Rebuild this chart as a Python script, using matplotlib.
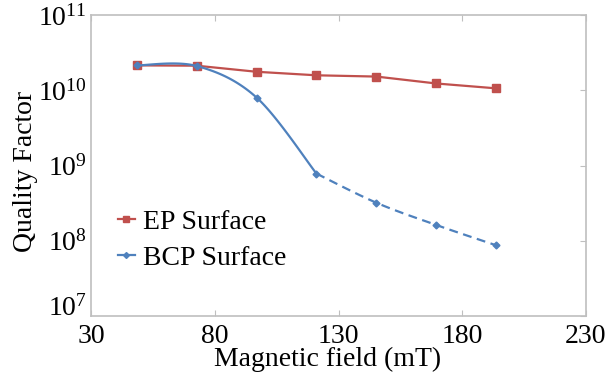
import numpy as np
import matplotlib
matplotlib.use("Agg")
import matplotlib.pyplot as plt
from matplotlib.lines import Line2D

plt.rcParams["font.family"] = ["Liberation Serif", "DejaVu Serif"]
plt.rcParams["mathtext.fontset"] = "custom"
plt.rcParams["mathtext.rm"] = "Liberation Serif"

# data
field = [48.5, 72.7, 96.9, 121.1, 145.3, 169.5, 193.7]
q_ep = [2.14e10, 2.12e10, 1.76e10, 1.58e10, 1.52e10, 1.23e10, 1.06e10]
q_bcp = [2.14e10, 2.10e10, 8.0e9, 7.8e8, 3.2e8, 1.62e8, 8.7e7]
n_solid = 4  # BCP solid up to 4th point, dashed after

red = "#C0504D"
blue = "#4F81BD"
grey = "#BFBFBF"

xlim = (30, 230)
ylim = (1e7, 1e11)


def smooth(xs, ys, n=40):
    # Excel-like smoothed line (Catmull-Rom Bezier), done in screen-ish space
    u = (np.array(xs) - xlim[0]) / (xlim[1] - xlim[0]) * 495
    v = (np.log10(ys) - 7) / 4 * 301
    p = np.column_stack([u, v])
    out = []
    for i in range(len(p) - 1):
        p0 = p[i - 1] if i > 0 else p[i]
        p1, p2 = p[i], p[i + 1]
        p3 = p[i + 2] if i + 2 < len(p) else p[i + 1]
        c1 = p1 + (p2 - p0) / 6
        c2 = p2 - (p3 - p1) / 6
        t = np.linspace(0, 1, n)[:, None]
        seg = (1 - t) ** 3 * p1 + 3 * (1 - t) ** 2 * t * c1 + 3 * (1 - t) * t ** 2 * c2 + t ** 3 * p2
        out.append(seg if i == 0 else seg[1:])
    out = np.vstack(out)
    xo = out[:, 0] / 495 * (xlim[1] - xlim[0]) + xlim[0]
    yo = 10 ** (out[:, 1] / 301 * 4 + 7)
    return xo, yo


fig = plt.figure(figsize=(6.16, 3.74), dpi=100)
ax = fig.add_axes([91 / 616, 1 - 316 / 374, 495 / 616, 301 / 374])

ax.plot(field, q_ep, color=red, lw=1.6, marker="s", ms=6, zorder=3)

sx, sy = smooth(field[:n_solid], q_bcp[:n_solid])
ax.plot(sx, sy, color=blue, lw=1.6, zorder=3)
dx, dy = smooth(field[n_solid - 1:], q_bcp[n_solid - 1:])
ax.plot(dx, dy, color=blue, lw=1.6, ls=(0, (4, 2.5)), zorder=3)
ax.plot(field, q_bcp, ls="none", color=blue, marker="D", ms=3.5, zorder=4)

ax.set_yscale("log")
ax.set_xlim(*xlim)
ax.set_ylim(*ylim)
ax.set_xticks([30, 80, 130, 180, 230])
ax.set_yticks([1e7, 1e8, 1e9, 1e10, 1e11])
ax.minorticks_off()

for s in ax.spines.values():
    s.set_color(grey)
    s.set_linewidth(1.2)

ax.tick_params(axis="x", which="both", direction="in", top=True, bottom=True,
               length=4, color=grey, labelsize=20, pad=6)
ax.tick_params(axis="y", which="both", direction="in", right=True, left=False,
               length=4, color=grey, labelsize=20, pad=3)

# bottom y label sits on its tick, like the original
fig.canvas.draw()
ax.get_yticklabels()[0].set_va("baseline")

ax.set_xlabel("Magnetic field (mT)", fontsize=20)
ax.set_ylabel("Quality Factor", fontsize=20)
ax.xaxis.set_label_coords(0.478, -0.103)
ax.yaxis.set_label_coords(-0.108, 0.48)

handles = [
    Line2D([], [], color=red, lw=1.6, marker="s", ms=4),
    Line2D([], [], color=blue, lw=1.6, marker="D", ms=3),
]
ax.legend(handles, ["EP Surface", "BCP Surface"], loc="upper left",
          bbox_to_anchor=(0.032, 0.392), frameon=False, fontsize=20,
          handlelength=0.6, handletextpad=0.3, labelspacing=0.4,
          borderaxespad=0)

fig.savefig("out.png", dpi=100)
